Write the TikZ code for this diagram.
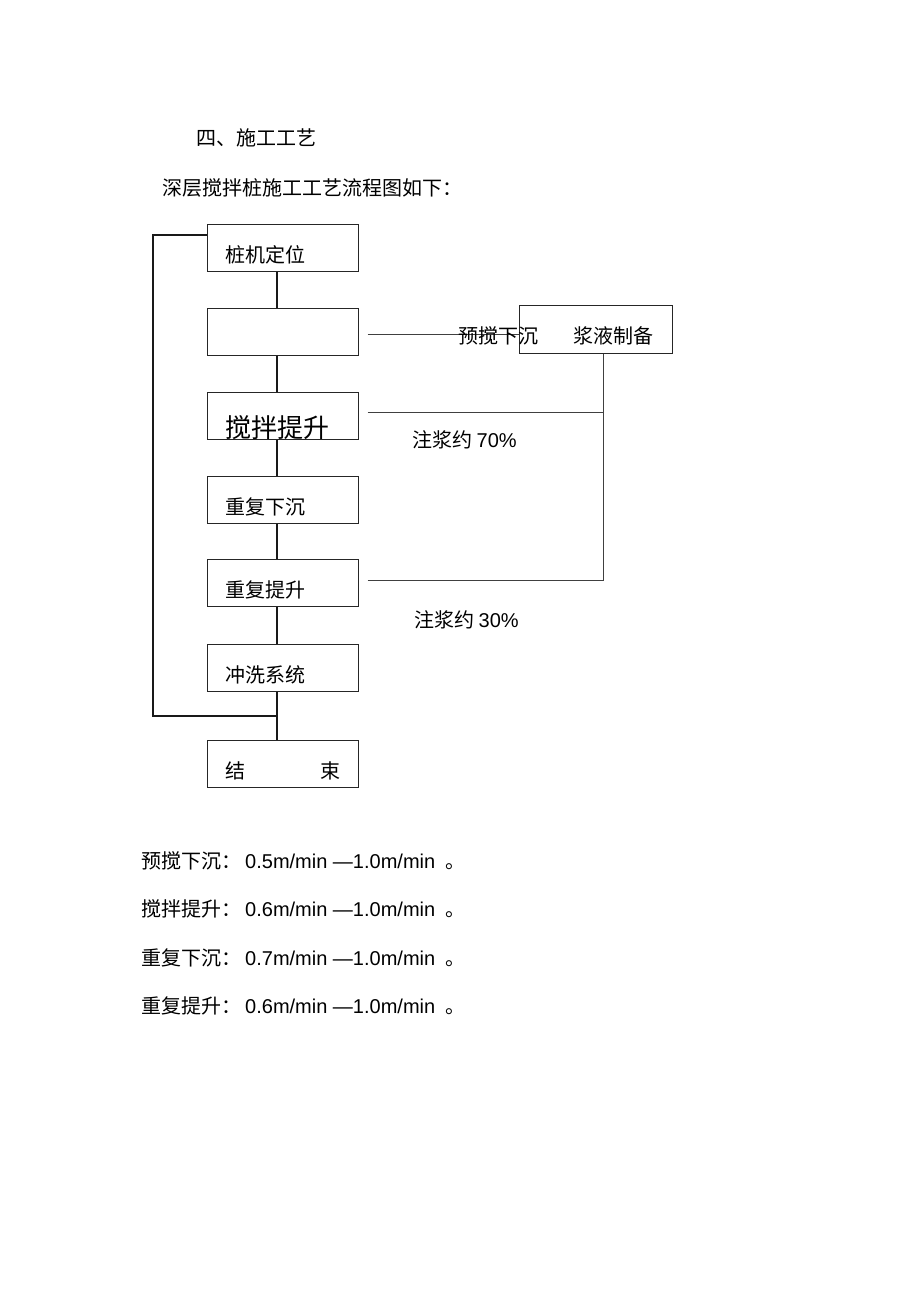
\documentclass[tikz,border=0pt]{standalone}
\usepackage{fontspec}
\setmainfont{Liberation Sans}
\newfontfamily\cjk{Noto Sans CJK SC}

\begin{document}
\begin{tikzpicture}[x=1pt,y=-1pt,
    font=\cjk\fontsize{20}{24}\selectfont,
    lbl/.style={anchor=base west, inner sep=0pt},
    box/.style={draw, line width=1pt, black!85, text=black, minimum width=151pt, minimum height=47pt,
        inner xsep=18pt, inner ysep=0pt, text width=115pt, align=left,
        text height=31pt, text depth=2pt},
    flow/.style={line width=1.8pt, black!90},
    loopline/.style={line width=2pt, black!90},
    feed/.style={line width=0.9pt, black!75}]
        \useasboundingbox (0,0) rectangle (920,1303);

        % heading
        \node[lbl] (title) at (196,146) {四、施工工艺};
        \node[lbl] (intro) at (162,195) {深层搅拌桩施工工艺流程图如下：};

        % boxes
        \node[box] (b1) at (282.5,247.5) {桩机定位};
        \node[box] (b2) at (282.5,331.5) {};
        \node[box, font=\cjk\fontsize{26}{30}\selectfont, text height=44pt, text depth=1pt]
            (b3) at (282.5,415.5) {搅拌提升};
        \node[box] (b4) at (282.5,499.5) {重复下沉};
        \node[box] (b5) at (282.5,583) {重复提升};
        \node[box] (b6) at (282.5,667.5) {冲洗系统};
        \node[box] (b7) at (282.5,764) {结\hfill 束};
        \node[box, minimum width=153pt, minimum height=48pt, inner xsep=19pt,
            align=right, text height=30pt] (slurry) at (595.5,329) {浆液制备};

        % main line
        \coordinate (axis) at (277,0);
        \foreach \a/\b in {b1/b2,b2/b3,b3/b4,b4/b5,b5/b6,b6/b7}
            \draw[flow] (\a.south -| axis) -- (\b.north -| axis);

        % return line
        \coordinate (loopcorner) at (152.5,716);
        \coordinate (join) at (axis |- loopcorner);
        \draw[loopline] ([yshift=-11pt]b1.north west) -| (loopcorner) -- (join);

        % slurry supply
        \coordinate (feedtop) at ([xshift=7.5pt]slurry.south);
        \draw[feed] ([xshift=9pt,yshift=-2.5pt]b2.east) -- ([yshift=-2.5pt]b2.east -| slurry.west);
        \draw[feed] ([xshift=9pt,yshift=3pt]b3.east) -- ([yshift=3pt]b3.east -| feedtop);
        \draw[feed] ([xshift=9pt,yshift=2.5pt]b5.east) -| (feedtop);
        \node[lbl] (sinklbl) at (458,343) {预搅下沉};
        \node[lbl] (grout70) at (412,447) {注浆约 {\rmfamily 70\%}};
        \node[lbl] (grout30) at (414,627) {注浆约 {\rmfamily 30\%}};

        % speeds
        \foreach \step/\lo [count=\i] in {预搅下沉/0.5,搅拌提升/0.6,重复下沉/0.7,重复提升/0.6} {
            \node[lbl] (stage\i) at (141,{868+48.5*(\i-1)}) {\step：};
            \node[lbl] (rate\i) at (245,{868+48.5*(\i-1)}) {{\rmfamily \lo m/min —1.0m/min\ } 。};
        }
\end{tikzpicture}
\end{document}
